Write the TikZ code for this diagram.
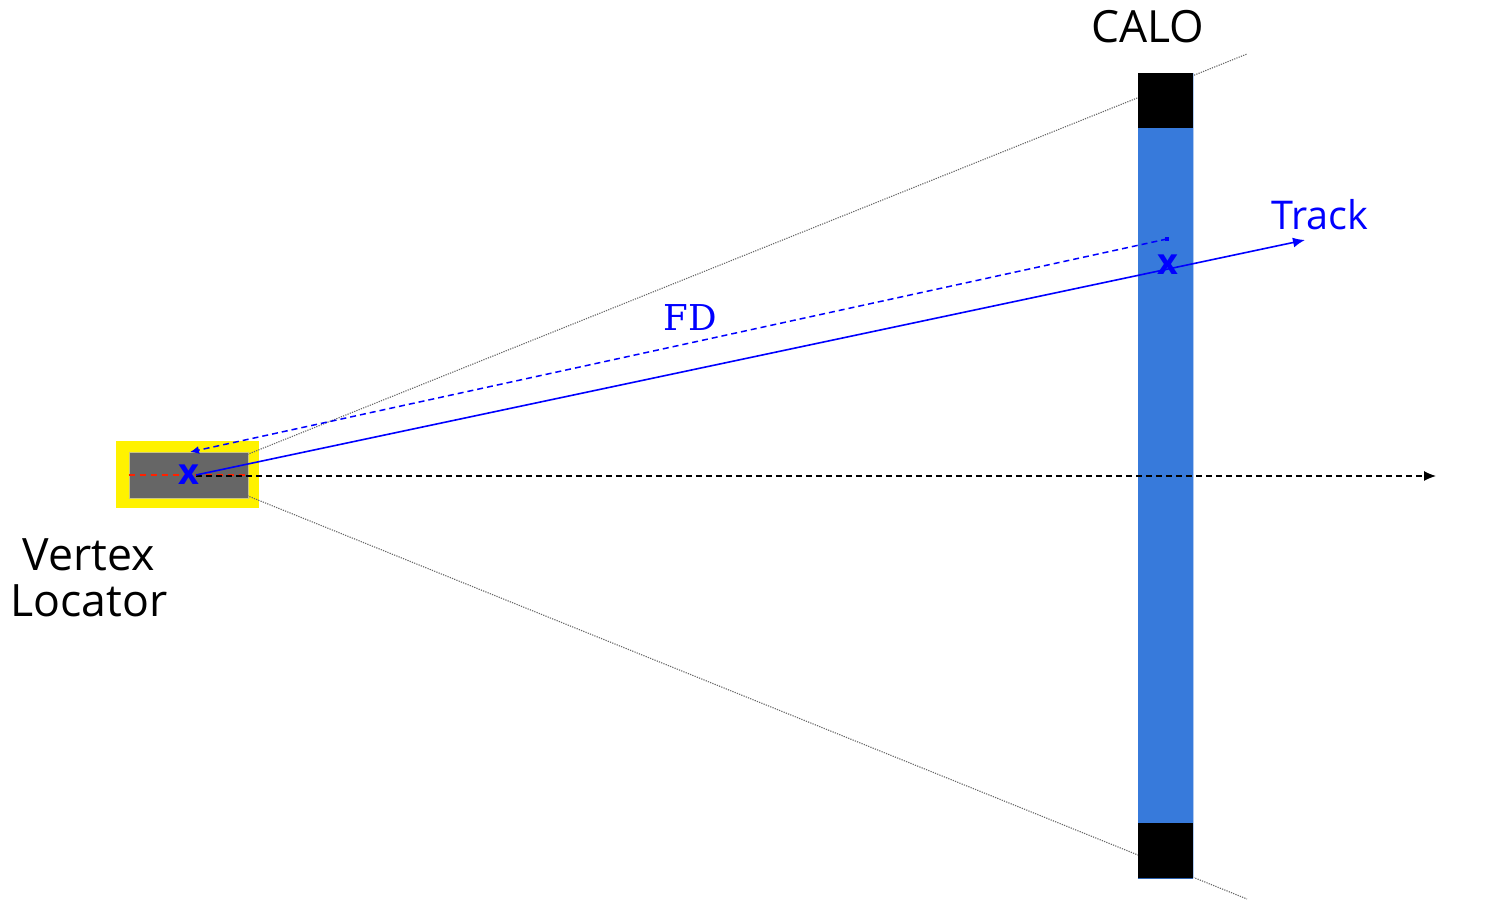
\documentclass[tikz,border=0pt]{standalone}
\usepackage{fontspec}
\setmainfont{Open Sans}
\newfontfamily\fdfont{DejaVu Serif}
\usetikzlibrary{arrows.meta,calc}
\definecolor{caloblue}{HTML}{377ADB}
\definecolor{velogray}{HTML}{666666}
\tikzset{
  cone/.style={draw=black!60, line width=0.55pt, dash pattern=on 0.6pt off 0.6pt},
  blockbox/.style={fill=black, draw=none, minimum width=27.5pt, minimum height=27.5pt, inner sep=0pt},
  label/.style={inner sep=0pt, anchor=center},
  xmark/.style={inner sep=0pt, text=blue, font=\bfseries\fontsize{18}{18}\selectfont},
  arr/.style={-{Latex[length=6pt,width=5pt]}},
}
\begin{document}
\begin{tikzpicture}[x=0.5pt,y=-0.5pt]
\useasboundingbox (0,0) rectangle (1496,908);
% vertex locator
\node (yellow) [fill=yellow, draw=none, minimum width=71.5pt, minimum height=33.5pt, inner sep=0pt] at (187.5,474.5) {};
\node (velo) [fill=velogray, draw=yellow!60!black!60, line width=0.4pt, minimum width=59.5pt, minimum height=23pt, inner sep=0pt] at (188.5,475) {};
\coordinate (v) at (196,475);
\draw[red!75!orange, line width=0.8pt, dash pattern=on 3pt off 2.5pt] (velo.west) -- (velo.east);
% acceptance cone
\coordinate (ctop) at (1247,54);
\coordinate (cbot) at (1247,899);
\draw[cone] (v) -- (ctop);
\draw[cone] (v) -- (cbot);
% calorimeter
\node (calo) [fill=caloblue, draw=none, minimum width=27.5pt, minimum height=402.5pt, inner sep=0pt] at (1165.5,475.5) {};
\draw[caloblue!40, line width=0.6pt] (calo.north east) -- (calo.south east);
\node (top) [blockbox, anchor=north] at (calo.north) {};
\node (bot) [blockbox, anchor=south] at (calo.south) {};
\draw[caloblue!80!black, line width=0.8pt] (bot.south west) -- (bot.south east);
% beam axis
\coordinate (axend) at (1436,476);
\draw[arr, dash pattern=on 3pt off 2pt, line width=0.6pt] (v |- axend) -- (axend);
% flight distance
\coordinate (fdend) at (1167,239);
\coordinate (pv) at (190,452);
\draw[blue, line width=0.75pt, dash pattern=on 3pt off 2pt, -{Latex[length=4.5pt,width=4pt]}] (fdend) -- (pv);
\fill[blue] ($(fdend)+(-2,-2)$) rectangle ($(fdend)+(2,2)$);
% track
\coordinate (trend) at (1305,240);
\draw[blue, line width=0.8pt, arr] (v) -- (trend);
% markers
\node (xv) [xmark] at (189,475) {x};
\node (xc) [xmark] at (1168,265) {x};
% labels
\node (calotxt) [label, font=\fontsize{22.2}{22.2}\selectfont] at (1148,27) {CALO};
\node (tracktxt) [label, text=blue, font=\fontsize{19.8}{19.8}\selectfont] at (1320,215) {Track};
\node (fdtxt) [label, text=blue, font=\fdfont\fontsize{17.8}{17.8}\selectfont] at (690,318) {FD};
\node (velotxt) [label, align=center, font=\fontsize{22.3}{22.8}\selectfont] at (89,578) {Vertex\\Locator};
\end{tikzpicture}
\end{document}
